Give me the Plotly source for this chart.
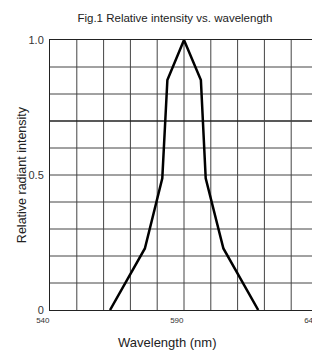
import plotly.graph_objects as go

wavelength = [562.4, 575.4, 581.9, 583.8, 590.0, 596.3, 598.1, 604.7, 617.7]
intensity = [0.0, 0.228, 0.488, 0.852, 1.0, 0.852, 0.488, 0.228, 0.0]

x_ticks = [540, 590, 640]
x_ticklabels = ["540", "590", "640"]
y_ticks = [0, 0.5, 1.0]
y_ticklabels = ["0", "0.5", "1.0"]

# the page body has an 8px default margin, so the figure is sized to fit the window
fig = go.Figure()
fig.add_trace(go.Scatter(x=wavelength, y=intensity, mode="lines",
                         line=dict(color="black", width=2.5), showlegend=False))

fig.update_layout(
    width=312, height=342,
    margin=dict(l=42, r=2, t=32, b=40, autoexpand=False),
    paper_bgcolor="white", plot_bgcolor="white",
    font=dict(family="Liberation Sans, Arial, sans-serif", color="#222"),
    title=dict(text="Fig.1 Relative intensity vs. wavelength", x=0.535, xanchor="center",
               y=0.971, yanchor="middle", font=dict(size=11.5, color="#222")),
    xaxis=dict(range=[540, 640], tickvals=x_ticks, ticktext=x_ticklabels,
               showgrid=False, ticklabeloverflow="allow", ticklabelposition="outside left",
               showline=True, linecolor="#222", linewidth=1, mirror=True,
               ticks="", tickfont=dict(size=8, color="#333"), ticklabelstandoff=2,
               zeroline=False),
    yaxis=dict(range=[0, 1.0], tickvals=y_ticks, ticktext=y_ticklabels,
               showgrid=False,
               showline=True, linecolor="#222", linewidth=1, mirror=True,
               ticks="", tickfont=dict(size=11, color="#333"), ticklabelstandoff=3,
               zeroline=False),
    annotations=[
        dict(text="Wavelength (nm)", xref="paper", yref="paper", x=0.44, y=-0.122,
             xanchor="center", yanchor="middle", showarrow=False,
             font=dict(size=13, color="#222")),
        dict(text="Relative radiant intensity", xref="paper", yref="paper", x=-0.104, y=0.5,
             xanchor="center", yanchor="middle", showarrow=False, textangle=-90,
             font=dict(size=12.5, color="#222")),
    ],
)

# grid lines: vertical every 10 nm, horizontal every 0.1
for i in range(1, 10):
    fig.add_shape(type="line", xref="x", yref="y", x0=540 + 10 * i, x1=540 + 10 * i, y0=0, y1=1,
                  line=dict(color="#444", width=1), layer="below")
    fig.add_shape(type="line", xref="x", yref="y", x0=540, x1=640, y0=i / 10, y1=i / 10,
                  line=dict(color="#222" if i == 7 else "#444", width=1.6 if i == 7 else 1),
                  layer="below")

fig.write_html("out.html")
